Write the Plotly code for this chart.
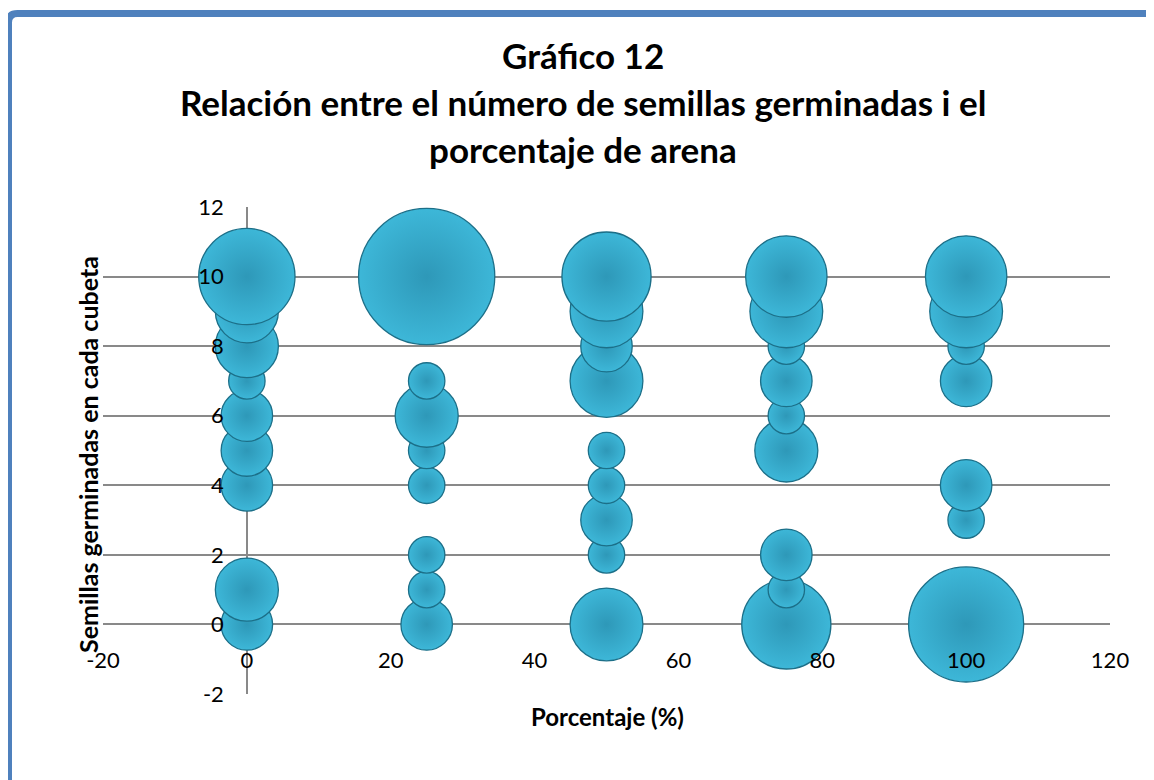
import plotly.graph_objects as go

# ---- data ----
porcentaje = [0, 0, 0, 0, 0, 0, 0, 0, 0,
              25, 25, 25, 25, 25, 25, 25, 25,
              50, 50, 50, 50, 50, 50, 50, 50, 50,
              75, 75, 75, 75, 75, 75, 75, 75, 75,
              100, 100, 100, 100, 100, 100, 100]
semillas = [0, 1, 4, 5, 6, 7, 8, 9, 10,
            0, 1, 2, 4, 5, 6, 7, 10,
            0, 2, 3, 4, 5, 7, 8, 9, 10,
            0, 1, 2, 5, 6, 7, 8, 9, 10,
            0, 3, 4, 7, 8, 9, 10]
frecuencia = [2, 3, 2, 2, 2, 1, 3, 3, 7,
              2, 1, 1, 1, 1, 3, 1, 14,
              4, 1, 2, 1, 1, 4, 2, 4, 6,
              6, 1, 2, 3, 1, 2, 1, 4, 5,
              10, 1, 2, 2, 1, 4, 5]

x_ticks = [-20, 0, 20, 40, 60, 80, 100, 120]
y_ticks = [-2, 0, 2, 4, 6, 8, 10, 12]

title_lines = ["Gráfico 12",
               "Relación entre el número de semillas germinadas i el",
               "porcentaje de arena"]
x_title = "Porcentaje (%)"
y_title = "Semillas germinadas en cada cubeta"

# ---- layout geometry (page pixels; the page body adds an 8px offset) ----
W, H = 1154, 780
OFF = 8
RL, RR, RT, RB = 103, 1110, 207, 694          # plot area as seen on the page
L, R, T, B = RL - OFF, RR - OFF, RT - OFF, RB - OFF
FONT = "Lato"
GRID = "#898989"


def px_x(p):
    return (p - RL) / (RR - RL)


def px_y(p):
    return (RB - p) / (RB - RT)


xr = [x_ticks[0], x_ticks[-1]]
yr = [y_ticks[0], y_ticks[-1]]

fig = go.Figure()
fig.add_trace(go.Scatter(
    x=porcentaje, y=semillas, mode="markers",
    marker=dict(size=frecuencia, sizemode="area", sizeref=2.0 / 36.4 ** 2,
                color="#3DB7D8",
                gradient=dict(type="radial", color="#2E98B8"),
                line=dict(color="#1C6F88", width=1.3),
                opacity=1),
    cliponaxis=False, showlegend=False, hoverinfo="x+y",
))

tickfont = dict(family=FONT, size=22, color="black")
fig.update_layout(
    width=W, height=H, autosize=False,
    margin=dict(l=L, r=W - R, t=T, b=H - B, pad=0),
    paper_bgcolor="white", plot_bgcolor="white",
    font=dict(family=FONT, color="black"),
    xaxis=dict(range=xr, tickvals=x_ticks, ticktext=[str(v) for v in x_ticks],
               showgrid=False,
               zeroline=True, zerolinecolor=GRID, zerolinewidth=1.5,
               showline=False, ticks="", anchor="free",
               position=(0 - yr[0]) / (yr[1] - yr[0]),
               ticklabelstandoff=21, tickfont=tickfont),
    yaxis=dict(range=yr, tickvals=y_ticks, ticktext=[str(v) for v in y_ticks],
               showgrid=True, gridcolor=GRID,
               gridwidth=1.5, zeroline=False, showline=False, ticks="",
               anchor="free", position=(0 - xr[0]) / (xr[1] - xr[0]),
               ticklabelstandoff=23, tickfont=tickfont),
)

# titles
for txt, py in zip(title_lines, [55, 102, 149]):
    fig.add_annotation(text="<b>%s</b>" % txt, xref="paper", yref="paper",
                       x=px_x(583), y=px_y(py), xanchor="center",
                       yanchor="middle", showarrow=False,
                       font=dict(family=FONT, size=35, color="black"))

fig.add_annotation(text="<b>%s</b>" % x_title, xref="paper", yref="paper",
                   x=px_x(607), y=px_y(716), xanchor="center",
                   yanchor="middle", showarrow=False,
                   font=dict(family=FONT, size=24, color="black"))
fig.add_annotation(text="<b>%s</b>" % y_title, xref="paper", yref="paper",
                   x=px_x(88), y=px_y(455), xanchor="center",
                   yanchor="middle", showarrow=False, textangle=-90,
                   font=dict(family=FONT, size=25, color="black"))

# outer rounded border
x0, x1 = px_x(8.5), px_x(1156)
y0, y1 = px_y(13.5), px_y(800)
rx, ry = 9 / (RR - RL), 9 / (RB - RT)
path = (f"M {x0 + rx},{y0} L {x1 - rx},{y0} Q {x1},{y0} {x1},{y0 - ry} "
        f"L {x1},{y1 + ry} Q {x1},{y1} {x1 - rx},{y1} "
        f"L {x0 + rx},{y1} Q {x0},{y1} {x0},{y1 + ry} "
        f"L {x0},{y0 - ry} Q {x0},{y0} {x0 + rx},{y0} Z")
fig.add_shape(type="path", path=path, xref="paper", yref="paper",
              line=dict(color="#4F81BD", width=7), fillcolor="rgba(0,0,0,0)")

fig.write_html("out.html")
